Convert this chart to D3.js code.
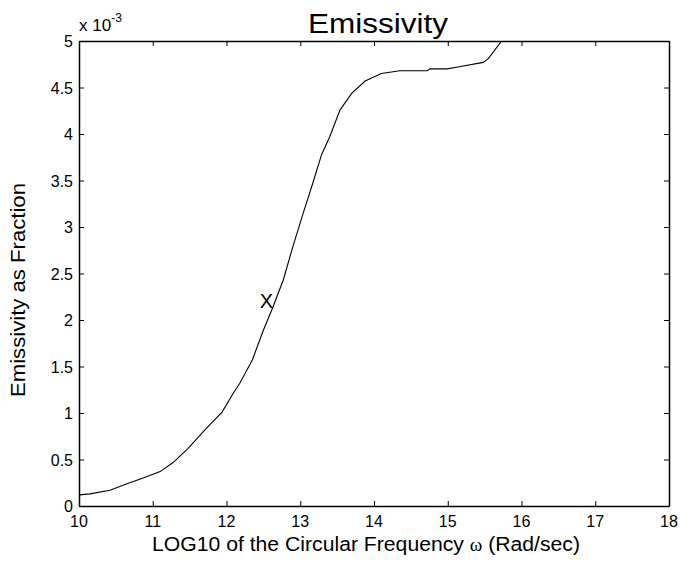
<!DOCTYPE html>
<html>
<head>
<meta charset="utf-8">
<script src="https://cdn.jsdelivr.net/npm/d3@7"></script>
<style>
	body { margin: 0; background: #fff; }
	text { font-family: Arial, "Liberation Sans", sans-serif; fill: #000; }
	.axis path, .axis line { stroke: #000; }
</style>
</head>
<body>
<script>
	// log10 of circular frequency
	var logFreq = [10.0, 10.15, 10.42, 10.65, 10.87, 11.1, 11.28, 11.48, 11.71, 11.94, 12.09, 12.18, 12.35, 12.5, 12.63, 12.77, 12.9, 13.04, 13.17, 13.29, 13.4, 13.54, 13.7, 13.88, 14.1, 14.35, 14.72, 14.76, 14.99, 15.14, 15.48, 15.55, 15.73, 15.9];
	// emissivity, in units of 1e-3
	var emissivity = [0.12, 0.13, 0.17, 0.24, 0.30, 0.37, 0.47, 0.62, 0.82, 1.01, 1.21, 1.32, 1.57, 1.89, 2.14, 2.43, 2.79, 3.15, 3.47, 3.78, 3.97, 4.26, 4.44, 4.57, 4.65, 4.68, 4.68, 4.70, 4.70, 4.72, 4.77, 4.81, 5.0, 5.3];
	var xTicks = [10, 11, 12, 13, 14, 15, 16, 17, 18];
	var yTicks = [0, 0.5, 1, 1.5, 2, 2.5, 3, 3.5, 4, 4.5, 5];
	var marker = {x: 12.54, y: 2.2, label: "X"};

	var width = 681, height = 561;
	var mLeft = 79, mRight = 669, mTop = 41, mBottom = 506;

	var svg = d3.select("body").append("svg")
		.attr("width", width)
		.attr("height", height);

	var x = d3.scaleLinear().domain([10, 18]).range([mLeft, mRight]);
	var y = d3.scaleLinear().domain([0, 5]).range([mBottom, mTop]);

	svg.append("defs").append("clipPath").attr("id", "clip")
		.append("rect")
		.attr("x", mLeft).attr("y", mTop)
		.attr("width", mRight - mLeft).attr("height", mBottom - mTop);

	// axes, ticks pointing inward like matlab
	svg.append("g").attr("class", "axis")
		.attr("transform", "translate(0," + mBottom + ")")
		.call(d3.axisTop(x).tickValues(xTicks).tickSize(5).tickSizeOuter(0).tickFormat(""));
	svg.append("g").attr("class", "axis")
		.attr("transform", "translate(0," + mTop + ")")
		.call(d3.axisBottom(x).tickValues(xTicks).tickSize(5).tickSizeOuter(0).tickFormat(""));
	svg.append("g").attr("class", "axis")
		.attr("transform", "translate(" + mLeft + ",0)")
		.call(d3.axisRight(y).tickValues(yTicks).tickSize(5).tickSizeOuter(0).tickFormat(""));
	svg.append("g").attr("class", "axis")
		.attr("transform", "translate(" + mRight + ",0)")
		.call(d3.axisLeft(y).tickValues(yTicks).tickSize(5).tickSizeOuter(0).tickFormat(""));

	svg.selectAll(".axis .domain").attr("stroke-width", 1.5);

	// tick labels
	svg.append("g").selectAll("text")
		.data(xTicks).enter()
		.append("text")
		.attr("x", function(d){ return x(d); })
		.attr("y", mBottom + 21)
		.attr("text-anchor", "middle")
		.attr("font-size", "16px")
		.text(function(d){ return d; });

	svg.append("g").selectAll("text")
		.data(yTicks).enter()
		.append("text")
		.attr("x", mLeft - 6)
		.attr("y", function(d){ return y(d) + 6; })
		.attr("text-anchor", "end")
		.attr("font-size", "16px")
		.text(function(d){ return d; });

	// exponent
	var ex = svg.append("text")
		.attr("x", mLeft)
		.attr("y", 31)
		.attr("font-size", "17px");
	ex.append("tspan").text("x 10");
	ex.append("tspan").attr("dy", -9).attr("font-size", "12px").text("-3");

	// curve
	var pts = logFreq.map(function(d, i){ return [d, emissivity[i]]; });
	var line = d3.line()
		.x(function(d){ return x(d[0]); })
		.y(function(d){ return y(d[1]); });

	svg.append("path")
		.datum(pts)
		.attr("clip-path", "url(#clip)")
		.attr("d", line)
		.attr("fill", "none")
		.attr("stroke", "#000")
		.attr("stroke-width", 1.1);

	svg.append("text")
		.attr("x", x(marker.x))
		.attr("y", y(marker.y) + 7)
		.attr("text-anchor", "middle")
		.attr("font-size", "20px")
		.text(marker.label);

	// titles
	svg.append("text")
		.attr("x", 378)
		.attr("y", 33)
		.attr("text-anchor", "middle")
		.attr("font-size", "27px")
		.attr("textLength", 140)
		.attr("lengthAdjust", "spacingAndGlyphs")
		.text("Emissivity");

	var xl = svg.append("text")
		.attr("x", 366)
		.attr("y", 551)
		.attr("text-anchor", "middle")
		.attr("font-size", "20px")
		.attr("textLength", 428)
		.attr("lengthAdjust", "spacingAndGlyphs");
	xl.append("tspan").text("LOG10 of the Circular Frequency ");
	xl.append("tspan").attr("font-family", "'Liberation Serif', serif").attr("font-size", "18px").text("ω");
	xl.append("tspan").text(" (Rad/sec)");

	svg.append("text")
		.attr("transform", "translate(25,290) rotate(-90)")
		.attr("text-anchor", "middle")
		.attr("font-size", "20px")
		.attr("textLength", 214)
		.attr("lengthAdjust", "spacingAndGlyphs")
		.text("Emissivity as Fraction");
</script>
</body>
</html>
